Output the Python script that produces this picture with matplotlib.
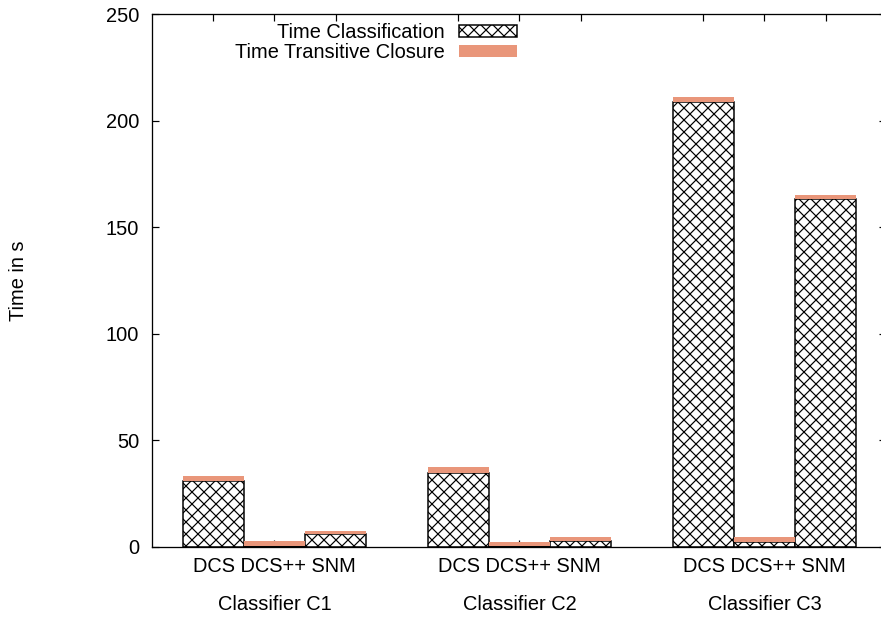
#!/usr/bin/env python3
"""
Stacked bar chart: classification time and transitive closure time
for DCS, DCS++ and SNM across three classifiers.
"""

import matplotlib
matplotlib.use('Agg')
import matplotlib.pyplot as plt
import matplotlib.transforms as mtransforms
import numpy as np

plt.rcParams['font.family'] = ['Liberation Sans', 'DejaVu Sans']
plt.rcParams['hatch.linewidth'] = 1.2
plt.rcParams['hatch.color'] = 'black'

classifiers = ["Classifier C1", "Classifier C2", "Classifier C3"]
methods = ["DCS", "DCS++", "SNM"]

# seconds, one row per classifier, one column per method
time_classification = [
    [31.0, 0.6, 6.1],
    [34.9, 0.4, 3.0],
    [208.6, 2.4, 163.1],
]
time_closure = [
    [2.3, 2.2, 1.4],
    [2.5, 2.0, 1.5],
    [2.6, 2.3, 2.0],
]

y_ticks = [0, 50, 100, 150, 200, 250]

SALMON = "#e9967a"
FS = 20
DPI = 72
W, H = 881, 617


def main():
    fig = plt.figure(figsize=(W / DPI, H / DPI), dpi=DPI, facecolor='white')
    left, right, top, bottom = 152, 882, 14, 547
    ax = fig.add_axes([left / W, 1 - bottom / H, (right - left) / W, (bottom - top) / H])

    n_m = len(methods)
    cls = np.array(time_classification)
    tc = np.array(time_closure)

    positions = []
    for g in range(len(classifiers)):
        x = g * (n_m + 1) + np.arange(n_m)
        positions.extend(x)
        ax.bar(x, cls[g], width=1.0, facecolor='white', edgecolor='black',
               hatch='xx', linewidth=1.5, zorder=2,
               label="Time Classification" if g == 0 else None)
        ax.bar(x, tc[g], width=1.0, bottom=cls[g], color=SALMON,
               linewidth=0, zorder=3,
               label="Time Transitive Closure" if g == 0 else None)

    ax.set_xlim(-1, 10.92)
    ax.set_ylim(0, 250)
    ax.set_yticks(y_ticks)
    ax.set_yticklabels([str(v) for v in y_ticks], fontsize=FS)

    # every bar gets a tick, only the middle one of a group gets the label
    labels = []
    for i, p in enumerate(positions):
        labels.append(" ".join(methods) if i % n_m == 1 else "")
    ax.set_xticks(positions)
    ax.set_xticklabels(labels, fontsize=FS)

    ax.set_axisbelow(True)
    ax.tick_params(axis='both', direction='in', length=7, width=1.2,
                   top=True, right=True, colors='black')
    ax.tick_params(axis='x', pad=10)
    ax.tick_params(axis='y', pad=13)
    for t in ax.yaxis.get_major_ticks():
        t.tick2line.set_markersize(3)
        t.tick2line.set_color('#777777')
    for s in ax.spines.values():
        s.set_linewidth(1.3)

    trans = mtransforms.blended_transform_factory(ax.transData, ax.transAxes)
    for g, name in enumerate(classifiers):
        cx = g * (n_m + 1) + 1
        ax.text(cx, -58 / (bottom - top), name, transform=trans,
                ha='center', va='center', fontsize=FS)

    fig.text(18 / W, 1 - 281 / H, "Time in s", rotation=90,
             ha='center', va='center', fontsize=FS)

    ax.legend(loc='upper right', bbox_to_anchor=(517 / W, 1 - 23 / H),
              bbox_transform=fig.transFigure, frameon=False, markerfirst=False,
              fontsize=FS, handlelength=2.9, handleheight=0.5,
              handletextpad=0.7, labelspacing=0.05, borderpad=0, borderaxespad=0)

    fig.savefig("out.png", dpi=DPI, facecolor='white')
    plt.close(fig)


if __name__ == "__main__":
    main()
